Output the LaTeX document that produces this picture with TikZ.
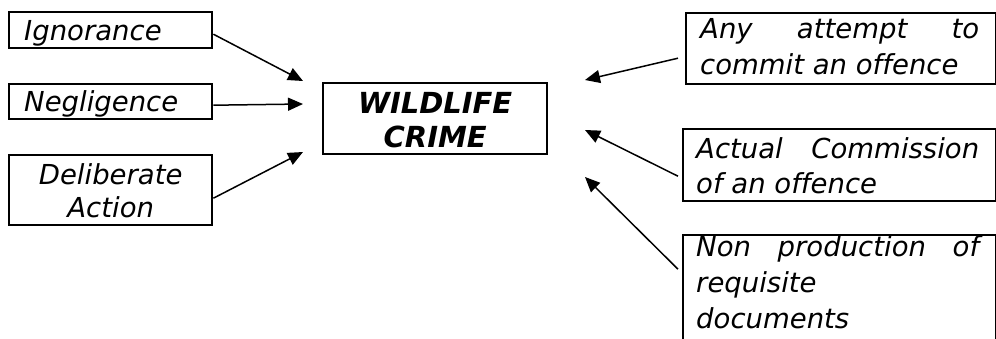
\documentclass[tikz,border=0pt]{standalone}
\usepackage{fontspec}
\setmainfont{DejaVu Sans}[Ligatures=NoCommon,ItalicFont={DejaVu Sans Oblique},BoldFont={DejaVu Sans Bold},BoldItalicFont={DejaVu Sans Bold Oblique}]
\usetikzlibrary{arrows.meta}
\tikzset{
  box/.style={draw, line width=2.4pt, inner ysep=0pt, anchor=north west,
    font=\fontsize{27.5}{36}\selectfont\itshape},
  arr/.style={line width=1.5pt, -{Triangle[length=15pt,width=13pt]}},
}
\begin{document}
\begin{tikzpicture}[x=1pt,y=-1pt]
\useasboundingbox (0,0) rectangle (996,338);
\fill[white] (0,0) rectangle (996,338);
\clip (0,0) rectangle (996,338);

% left boxes
\node[box, inner xsep=15pt, text height=28pt, text depth=8pt] (ign) at (8,11)
  {\parbox[t]{173pt}{Ignorance}};
\node[box, inner xsep=15pt, text height=27pt, text depth=8pt] (neg) at (8,83)
  {\parbox[t]{173pt}{Negligence}};
\node[box, inner xsep=15pt, text height=29pt, text depth=41pt] (del) at (8,154)
  {\parbox[t]{173pt}{\fontsize{27.5}{33}\selectfont\centering Deliberate\\Action}};

% centre box
\node[box, inner xsep=0pt, text height=30pt, text depth=41pt] (crime) at (322,82)
  {\parbox[t]{224pt}{\fontsize{29}{34}\selectfont\bfseries\itshape\centering WILDLIFE\\CRIME}};

% right boxes
\node[box, inner xsep=14pt, text height=25pt, text depth=46pt] (any) at (685,12)
  {\parbox[t]{282pt}{\fontsize{27.5}{36}\selectfont\leavevmode\hbox to 279pt{Any\hfill attempt\hfill to}\\commit an offence}};
\node[box, inner xsep=13pt, text height=29pt, text depth=43pt] (act) at (682,128)
  {\parbox[t]{287pt}{\fontsize{27.5}{35}\selectfont\leavevmode\hbox to 283pt{Actual\hfill Commission}\\of an offence}};
\node[box, inner xsep=13pt, text height=21pt, text depth=95pt] (non) at (682,234)
  {\parbox[t]{287pt}{\fontsize{27.5}{36}\selectfont\leavevmode\hbox to 283pt{Non\hfill production\hfill of}\\requisite\\documents}};

% arrow tips
\coordinate (t1) at (303,81);
\coordinate (t2) at (303,104);
\coordinate (t3) at (303,152);
\coordinate (t4) at (585,80);
\coordinate (t5) at (585,130);
\coordinate (t6) at (585,177);

\draw[arr] ([yshift=-4pt]ign.east) -- (t1);
\draw[arr] ([yshift=-3.5pt]neg.east) -- (t2);
\draw[arr] ([yshift=-8pt]del.east) -- (t3);
\draw[arr] ([xshift=-7pt,yshift=-9.5pt]any.west) -- (t4);
\draw[arr] ([xshift=-4pt,yshift=-11pt]act.west) -- (t5);
\draw[arr] ([xshift=-4pt,yshift=24pt]non.west) -- (t6);
\end{tikzpicture}
\end{document}
